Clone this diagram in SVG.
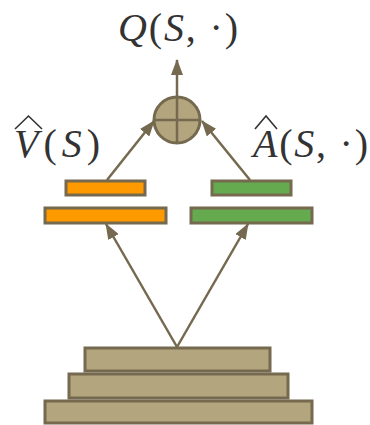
<svg xmlns="http://www.w3.org/2000/svg" width="370" height="425" viewBox="0 0 370 425">
<style>
.base{fill:#b3a67e;stroke:#75694f;stroke-width:3}
.orange{fill:#ff9900;stroke:#75694f;stroke-width:3}
.green{fill:#66aa4f;stroke:#75694f;stroke-width:3}
.conn{stroke:#75694f;stroke-width:2.5;fill:none;marker-end:url(#arr)}
.t{font-family:"Liberation Serif","DejaVu Serif",serif;font-size:40px;fill:#333}
.i{font-style:italic}
.hat{fill:none;stroke:#333;stroke-width:1.6;stroke-linejoin:miter}
</style>
<defs>
<marker id="arr" viewBox="0 0 16 12" refX="15" refY="6" markerWidth="16" markerHeight="12" markerUnits="userSpaceOnUse" orient="auto">
<path d="M0,0 L16,6 L0,12 Z" fill="#75694f"/>
</marker>
</defs>
<rect width="370" height="425" fill="#fff"/>
<g id="connectors">
<line class="conn" x1="177" y1="347" x2="106" y2="224"/>
<line class="conn" x1="177" y1="347" x2="248" y2="224"/>
<line class="conn" x1="107" y1="180" x2="154" y2="121"/>
<line class="conn" x1="250" y1="180" x2="202" y2="121"/>
<line class="conn" x1="177" y1="97" x2="177" y2="60"/>
</g>
<g id="base">
<rect class="base" x="85" y="348" width="185" height="23"/>
<rect class="base" x="69" y="374" width="219" height="24"/>
<rect class="base" x="45" y="401" width="267" height="22"/>
</g>
<g id="value-stream">
<rect class="orange" x="66" y="181" width="79" height="14"/>
<rect class="orange" x="45" y="208" width="121" height="15"/>
</g>
<g id="advantage-stream">
<rect class="green" x="212" y="181" width="79" height="14"/>
<rect class="green" x="191" y="208" width="121" height="15"/>
</g>
<g id="sum">
<circle cx="177" cy="120" r="23" fill="#b3a67e" stroke="#75694f" stroke-width="3"/>
<line x1="154" y1="120" x2="200" y2="120" stroke="#75694f" stroke-width="2.5"/>
<line x1="177" y1="97" x2="177" y2="143" stroke="#75694f" stroke-width="2.5"/>
</g>
<g id="labels">
<text class="t" x="118" y="41" textLength="120" lengthAdjust="spacing"><tspan class="i">Q</tspan>(<tspan class="i">S</tspan>, ·)</text>
<text class="t" x="14" y="157" textLength="86" lengthAdjust="spacing"><tspan class="i">V</tspan>(<tspan class="i">S</tspan>)</text>
<text class="t" x="253" y="157" textLength="115" lengthAdjust="spacing"><tspan class="i">A</tspan>(<tspan class="i">S</tspan>, ·)</text>
<path class="hat" d="M15,129 L28.5,116 L42,129"/>
<path class="hat" d="M255,129 L266,116 L277,129"/>
</g>
</svg>
